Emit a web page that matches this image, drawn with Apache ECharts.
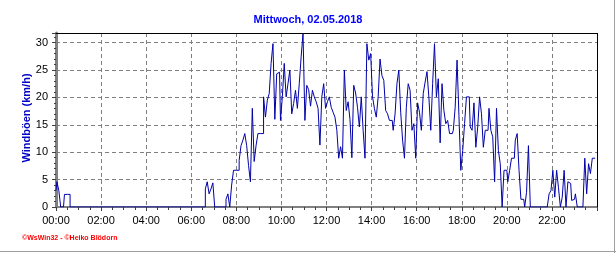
<!DOCTYPE html>
<html>
<head>
<meta charset="utf-8">
<script src="https://cdn.jsdelivr.net/npm/echarts@6/dist/echarts.min.js"></script>
<style>
html,body{margin:0;padding:0;background:#fff;}
#c{width:616px;height:253px;}
</style>
</head>
<body>
<div id="c"></div>
<script>
const titleText = 'Mittwoch, 02.05.2018';
const yAxisName = 'Windböen (km/h)';
const creditText = '©WsWin32 - ©Heiko Blödorn';
const stepMinutes = 5;
const xTickLabels = ['00:00','02:00','04:00','06:00','08:00','10:00','12:00','14:00','16:00','18:00','20:00','22:00'];
const yTickLabels = ['0','5','10','15','20','25','30'];
// wind gusts (km/h), one value every 5 minutes, 00:00 .. 23:55
const gusts = [
  3.0, 4.6, 3.0, 0, 0, 2.3, 2.3, 2.3, 0, 0, 0, 0,
  0,0,0,0,0,0,0,0,0,0,0,0,
  0,0,0,0,0,0,0,0,0,0,0,0,
  0,0,0,0,0,0,0,0,0,0,0,0,
  0,0,0,0,0,0,0,0,0,0,0,0,
  0,0,0,0,0,0,0,0,0,0,0,0,
  0, 0, 0, 0, 0, 0, 0, 0, 3.3, 4.6, 2.4, 3.3,
  4.4, 0, 0, 0, 0, 0, 0, 1.4, 2.4, 0, 4.0, 6.7,
  6.7, 6.7, 8.5, 11.2, 12.2, 13.4, 11.2, 7.6, 4.6, 18.0, 8.3, 11.2,
  13.4, 13.4, 13.4, 20.1, 16.4, 19.5, 20.7, 26.2, 29.8, 16.0, 24.3, 24.6,
  15.8, 20.1, 26.2, 20.1, 22.5, 25.0, 17.0, 18.9, 21.3, 18.0, 22.5, 27.4,
  31.7, 15.8, 22.2, 21.4, 18.4, 21.3, 20.1, 19.2, 18.0, 11.3, 20.1, 22.5,
  18.0, 19.2, 20.1, 18.2, 17.3, 16.4, 14.0, 8.9, 11.0, 8.9, 25.0, 17.6,
  19.2, 16.0, 9.0, 22.2, 20.8, 18.2, 14.6, 20.1, 14.0, 8.9, 29.8, 26.8,
  28.0, 20.1, 18.0, 16.4, 20.1, 27.0, 24.0, 23.1, 17.6, 17.0, 15.8, 15.8,
  14.0, 17.0, 22.5, 25.0, 17.3, 12.2, 8.9, 18.2, 22.5, 21.3, 14.0, 15.2,
  8.9, 19.0, 17.3, 14.0, 20.7, 22.8, 24.7, 20.0, 14.0, 22.5, 29.8, 20.1,
  23.4, 11.7, 22.5, 17.6, 15.2, 15.8, 13.4, 13.4, 14.0, 18.2, 26.8, 16.7,
  6.7, 10.3, 15.2, 20.1, 20.1, 14.6, 14.0, 19.0, 10.9, 14.6, 20.1, 17.0,
  10.9, 14.0, 14.0, 18.0, 14.0, 12.8, 4.6, 18.0, 10.3, 7.9, 0, 6.7,
  6.7, 4.6, 6.7, 8.9, 8.9, 12.2, 13.4, 6.7, 1.4, 1.4, 0, 2.7,
  11.2, 0, 0, 0, 0, 0, 0, 0, 0, 0, 0, 2.4,
  3.0, 6.7, 1.8, 6.7, 3.5, 0, 1.8, 6.7, 0, 4.6, 4.3, 1.2,
  1.4, 2.4, 0, 0, 0, 0, 8.9, 2.4, 7.9, 6.1, 8.9, 8.9
];

const seriesData = gusts.map((v, i) => [i * stepMinutes, v]);
const FONT = '"Liberation Sans", Arial, sans-serif';

const G = {left: 56, top: 33, right: 597, bottom: 207};

const chart = echarts.init(document.getElementById('c'), null, {renderer: 'canvas'});
chart.setOption({
  animation: false,
  backgroundColor: '#ffffff',
  title: {
    text: titleText,
    left: 'center',
    top: 9,
    textStyle: {color: '#0000ff', fontSize: 11, fontWeight: 'bold', fontFamily: FONT}
  },
  grid: {left: G.left, top: G.top, right: 616 - G.right, bottom: 253 - G.bottom, containLabel: false},
  xAxis: {
    type: 'value', min: 0, max: 1440, interval: 120,
    axisLine: {show: true, lineStyle: {color: '#808080', width: 2}},
    axisTick: {show: true, length: 4, lineStyle: {color: '#404040', width: 1}},
    minorTick: {show: true, splitNumber: 4, length: 3, lineStyle: {color: '#404040', width: 1}},
    axisLabel: {
      formatter: v => { const i = Math.round(v / 120); return (v % 120 === 0 && xTickLabels[i]) ? xTickLabels[i] : ''; },
      color: '#000', fontSize: 11, fontFamily: FONT, margin: 8
    },
    splitLine: {show: true, lineStyle: {color: '#808080', width: 1, type: [4, 3]}}
  },
  yAxis: {
    type: 'value', min: 0, max: 31.75, interval: 5,
    axisLine: {show: true, lineStyle: {color: '#808080', width: 3}},
    axisTick: {show: true, length: 4, lineStyle: {color: '#404040', width: 1}},
    minorTick: {show: true, splitNumber: 5, length: 2, lineStyle: {color: '#404040', width: 1}},
    axisLabel: {
      formatter: v => { const i = Math.round(v / 5); return (Math.abs(v - i * 5) < 1e-6 && yTickLabels[i]) ? yTickLabels[i] : ''; },
      color: '#000', fontSize: 11, fontFamily: FONT, margin: 8
    },
    splitLine: {show: true, lineStyle: {color: '#808080', width: 1, type: [4, 3]}}
  },
  series: [{
    type: 'line',
    data: seriesData,
    showSymbol: false,
    symbol: 'none',
    step: 'middle',
    lineStyle: {color: '#0000a8', width: 1},
    z: 5
  }],
  graphic: [
    {type: 'line', z: 100, shape: {x1: G.left, y1: G.top + 0.5, x2: G.right + 1, y2: G.top + 0.5}, style: {stroke: '#000', lineWidth: 1}},
    {type: 'line', z: 100, shape: {x1: G.right + 0.5, y1: G.top, x2: G.right + 0.5, y2: G.bottom}, style: {stroke: '#000', lineWidth: 1}},
    {type: 'line', z: 100, shape: {x1: 614.5, y1: 0, x2: 614.5, y2: 253}, style: {stroke: '#a0a0a0', lineWidth: 1}},
    {type: 'line', z: 100, shape: {x1: 0, y1: 251.5, x2: 616, y2: 251.5}, style: {stroke: '#a0a0a0', lineWidth: 1}},
    {type: 'text', z: 100, x: 27, y: 118, rotation: Math.PI / 2,
     style: {text: yAxisName, fill: '#0000c8', font: 'bold 11px ' + FONT, align: 'center', verticalAlign: 'middle'}},
    {type: 'text', z: 100, left: 22, top: 235, style: {text: creditText, fill: '#ff0000', font: 'bold 7px ' + FONT}}
  ]
});
</script>
</body>
</html>
